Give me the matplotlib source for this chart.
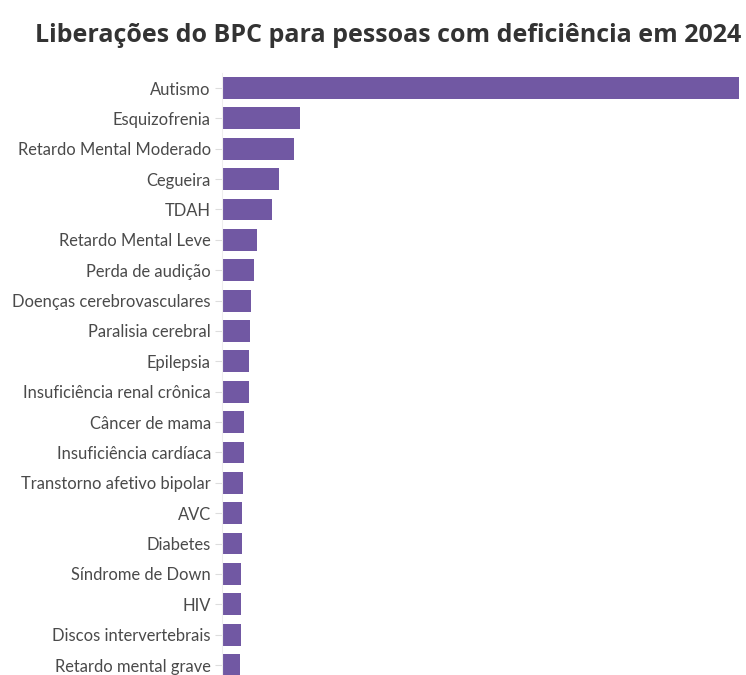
import matplotlib.pyplot as plt

# Liberações do BPC por deficiência (2024)
categorias = [
    "Autismo", "Esquizofrenia", "Retardo Mental Moderado", "Cegueira", "TDAH",
    "Retardo Mental Leve", "Perda de audição", "Doenças cerebrovasculares",
    "Paralisia cerebral", "Epilepsia", "Insuficiência renal crônica",
    "Câncer de mama", "Insuficiência cardíaca", "Transtorno afetivo bipolar",
    "AVC", "Diabetes", "Síndrome de Down", "HIV", "Discos intervertebrais",
    "Retardo mental grave",
]
liberacoes = [
    51700, 7800, 7200, 5700, 5000, 3500, 3200, 2900, 2800, 2700,
    2670, 2200, 2170, 2100, 2000, 1970, 1950, 1900, 1870, 1850,
]

cor = "#7158a3"

fig = plt.figure(figsize=(7.46, 6.75), dpi=100)
ax = fig.add_axes([222 / 746, -0.0077, (739 - 222) / 746, 0.8998])

y = range(len(categorias))
ax.barh(y, liberacoes, height=0.72, color=cor)
ax.set_ylim(len(categorias) - 0.5, -0.5)
ax.set_xlim(0, max(liberacoes))

ax.set_yticks(list(y))
ax.set_yticklabels(categorias, fontsize=11.9, color="#4a4a4a", family="Lato")
ax.tick_params(axis="y", length=5, width=0.8, color="#dddddd", pad=3)
ax.set_xticks([])

for lado in ["top", "right", "bottom"]:
    ax.spines[lado].set_visible(False)
ax.spines["left"].set_color("#eeeeee")
ax.spines["left"].set_linewidth(0.8)

fig.text(0.52, 0.948, "Liberações do BPC para pessoas com deficiência em 2024",
         ha="center", va="center", fontsize=18, fontweight="bold",
         color="#333333", family="Open Sans")

fig.savefig("out.png", dpi=100)
